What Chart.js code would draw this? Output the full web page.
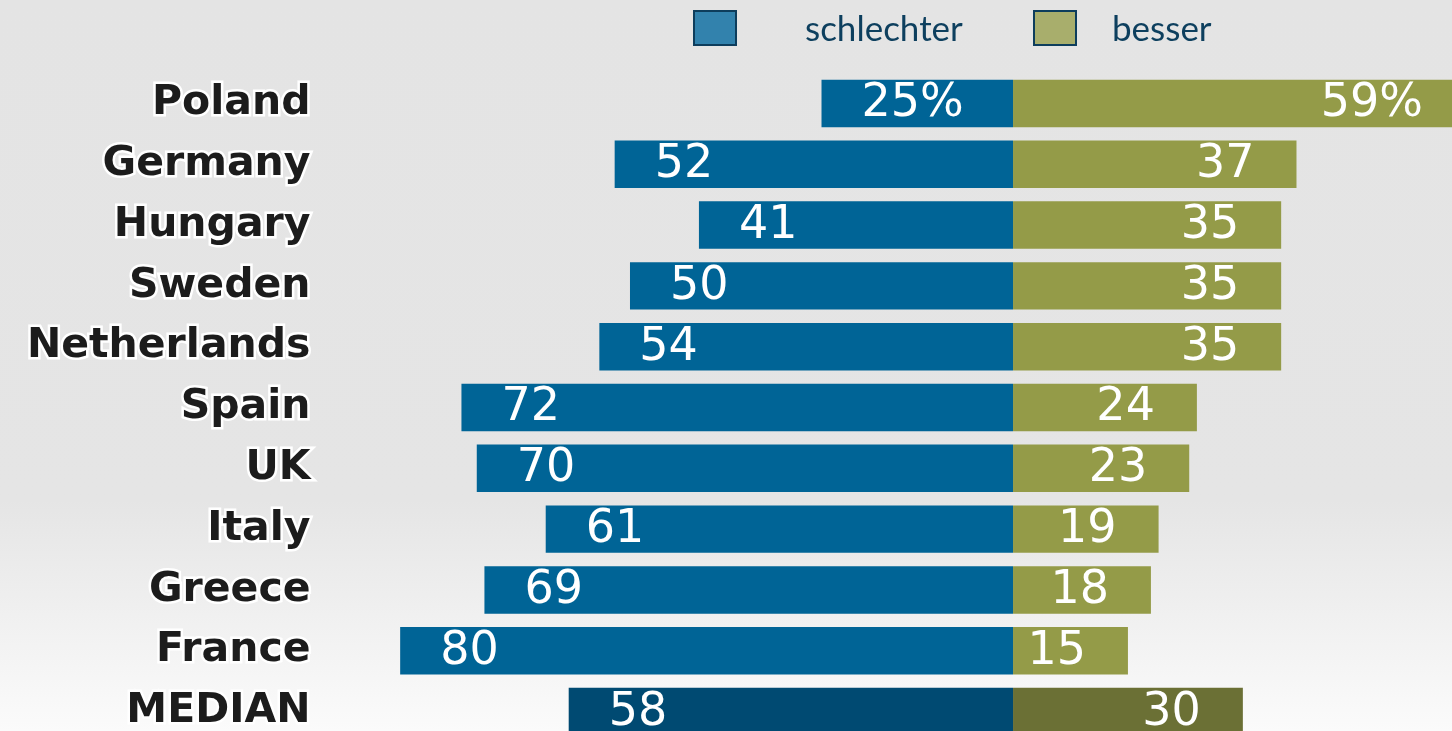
<!DOCTYPE html>
<html>
<head>
<meta charset="utf-8">
<title>schlechter / besser</title>
<script src="https://cdn.jsdelivr.net/npm/chart.js@4/dist/chart.umd.min.js"></script>
<style>
  html, body {
    margin: 0;
    padding: 0;
    overflow: hidden;
    background: linear-gradient(to bottom, #e4e4e4 0px, #e5e5e5 500px, #fbfbfb 731px);
    height: 731px;
  }
  canvas { display: block; }
</style>
</head>
<body>
<canvas id="chart" width="1452" height="762"></canvas>
<script>
// Data
const countries = ['Poland', 'Germany', 'Hungary', 'Sweden', 'Netherlands', 'Spain', 'UK', 'Italy', 'Greece', 'France', 'MEDIAN'];
const schlechter = [25, 52, 41, 50, 54, 72, 70, 61, 69, 80, 58];
const besser = [59, 37, 35, 35, 35, 24, 23, 19, 18, 15, 30];
const seriesNames = ['schlechter', 'besser'];

// Colours
const BLUE = '#006496';
const BLUE_MEDIAN = '#004a72';
const OLIVE = '#949b48';
const OLIVE_MEDIAN = '#6b7035';

const isMedian = i => countries[i] === 'MEDIAN';

/**
 * Draws the value labels inside each bar
 */
const valueLabels = {
  id: 'valueLabels',
  afterDatasetsDraw(chart) {
    const ctx = chart.ctx;
    ctx.save();
    ctx.font = '46px "DejaVu Sans"';
    ctx.fillStyle = '#ffffff';
    ctx.textBaseline = 'middle';

    chart.getDatasetMeta(0).data.forEach((bar, i) => {
      const suffix = i === 0 ? '%' : '';
      ctx.textAlign = 'left';
      ctx.fillText(schlechter[i] + suffix, bar.x + 40, bar.y + 1);
    });

    chart.getDatasetMeta(1).data.forEach((bar, i) => {
      const suffix = i === 0 ? '%' : '';
      ctx.textAlign = 'right';
      ctx.fillText(besser[i] + suffix, bar.x - 42, bar.y + 1);
    });
    ctx.restore();
  }
};

/**
 * Legend at the top (wide gap between box and text)
 */
const topLegend = {
  id: 'topLegend',
  afterDraw(chart) {
    const ctx = chart.ctx;
    const items = [
      { box: 694, text: 805, fill: '#3282ad', label: seriesNames[0] },
      { box: 1034, text: 1112, fill: '#a8ae6c', label: seriesNames[1] }
    ];
    ctx.save();
    ctx.font = '35px Lato';
    ctx.textBaseline = 'alphabetic';
    ctx.textAlign = 'left';
    items.forEach(item => {
      ctx.fillStyle = item.fill;
      ctx.fillRect(item.box, 11, 42, 34);
      ctx.strokeStyle = '#0d3d5c';
      ctx.lineWidth = 2;
      ctx.strokeRect(item.box, 11, 42, 34);
      ctx.fillStyle = '#0d3f5e';
      ctx.fillText(item.label, item.text, 41);
    });
    ctx.restore();
  }
};

const ctx = document.getElementById('chart').getContext('2d');

new Chart(ctx, {
  type: 'bar',
  data: {
    labels: countries,
    datasets: [
      {
        label: seriesNames[0],
        data: schlechter.map(v => -v),
        backgroundColor: countries.map((c, i) => isMedian(i) ? BLUE_MEDIAN : BLUE),
        borderWidth: 0,
        barPercentage: 0.78,
        categoryPercentage: 1
      },
      {
        label: seriesNames[1],
        data: besser,
        backgroundColor: countries.map((c, i) => isMedian(i) ? OLIVE_MEDIAN : OLIVE),
        borderWidth: 0,
        barPercentage: 0.78,
        categoryPercentage: 1
      }
    ]
  },
  options: {
    indexAxis: 'y',
    responsive: false,
    animation: false,
    layout: {
      padding: { top: 73, bottom: 20, left: 0, right: 0 }
    },
    plugins: {
      legend: { display: false },
      tooltip: { enabled: false }
    },
    scales: {
      x: {
        display: false,
        stacked: true,
        min: -81,
        max: 57.3
      },
      y: {
        stacked: true,
        grid: { display: false, drawTicks: false },
        border: { display: false },
        afterFit(scale) {
          // fixed label column, no extra padding from label heights
          scale.width = 392.5;
          scale.paddingTop = 0;
          scale.paddingBottom = 0;
        },
        ticks: {
          padding: 82,
          color: '#1c1c1c',
          textStrokeColor: '#ffffff',
          textStrokeWidth: 5,
          font: { family: '"DejaVu Sans"', size: 41, weight: 'bold' }
        }
      }
    }
  },
  plugins: [valueLabels, topLegend]
});
</script>
</body>
</html>
